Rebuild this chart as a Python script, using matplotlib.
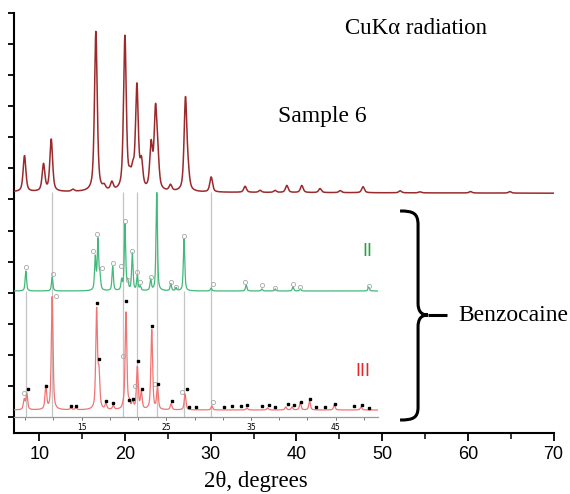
import numpy as np
import matplotlib
matplotlib.use("Agg")
import matplotlib.pyplot as plt
from matplotlib.path import Path
from matplotlib.patches import PathPatch
from matplotlib.ticker import FixedLocator, MultipleLocator, NullFormatter

# ---------------- data ----------------
# Sample 6 pattern: peak positions (2theta) and heights (arb. units)
s6_pos = [8.25, 10.47, 11.37, 13.9, 16.58, 17.55, 18.45, 19.97, 20.55, 20.9, 21.37, 21.9,
          23.03, 23.54, 23.8, 25.29, 27.04, 27.35, 30.04, 34.0, 35.75, 37.5, 38.87, 40.62,
          42.75, 45.1, 47.77, 52.1, 54.4, 60.3, 64.9]
s6_h = [36, 27, 52, 2, 160, 4, 8, 154, 10, 16, 103, 26,
        44, 75, 28, 6, 92, 14, 15, 6, 2, 2, 7, 7,
        4, 2, 6, 2, 1, 1.5, 1.5]
s6_base = 241.5

# Benzocaine form II (green)
f2_pos = [8.40, 11.51, 16.6, 16.92, 17.15, 18.66, 19.72, 20.11, 20.43, 20.98, 21.57, 21.92,
          23.15, 23.86, 25.52, 26.15, 27.09, 30.29, 34.43, 36.29, 37.86, 39.96, 40.82, 48.9]
f2_h = [20, 14, 33, 50, 14, 24, 10, 66, 8, 37, 15, 4,
        11, 98, 7, 3, 52, 3, 6, 2, 2, 4, 2, 4]
f2_base = 126.0
f2_circ_x = [8.40, 11.63, 16.36, 16.76, 17.36, 18.66, 19.6, 20.11, 20.43, 20.98, 21.57, 21.92,
             23.15, 25.52, 26.15, 27.09, 30.49, 34.31, 36.29, 37.86, 39.96, 40.82, 48.9]
f2_circ_y = [150.3, 143, 166, 183, 149, 154.3, 151.3, 196, 137, 166, 145.3, 135,
             140, 135.3, 129.7, 181.3, 132.7, 135.3, 132, 129.3, 132.7, 130.3, 131]

# Benzocaine form III (red)
f3_pos = [8.2, 8.51, 10.76, 11.51, 13.72, 14.31, 16.76, 17.04, 17.86, 18.73, 19.91, 20.23,
          20.62, 21.02, 21.57, 22.04, 23.27, 23.95, 25.56, 27.21, 30.37, 34.51, 36.96,
          39.1, 39.84, 40.82, 41.92, 44.85, 48.0]
f3_h = [10, 16, 23, 113, 2, 2, 99, 34, 6, 4, 3, 97,
        6, 8, 42, 17, 80, 22, 6, 16, 4, 2, 2,
        3, 3, 7, 9, 5, 3]
f3_base = 7.0
f3_sq_x = [8.67, 10.76, 13.72, 14.31, 16.83, 17.07, 17.86, 18.73, 20.23, 20.62, 21.02, 21.69,
           22.09, 23.27, 24.05, 25.64, 27.41, 27.68, 28.51, 31.86, 32.73, 33.8, 34.51, 36.29,
           37.07, 37.86, 39.32, 40.03, 40.94, 42.01, 42.72, 43.78, 44.88, 47.21, 48.12, 48.9]
f3_sq_y = [28, 31, 11.3, 10.7, 114.3, 58, 16.3, 13.7, 116.3, 17, 18, 56,
           28, 91.3, 33, 16.3, 27.7, 10.3, 9.7, 9.7, 11.3, 11.3, 12, 11.3,
           12, 9.7, 13, 12.3, 15.3, 17.7, 9.7, 9.7, 12.7, 11, 12, 8.7]
f3_circ_x = [8.16, 11.91, 19.84, 21.3, 23.66, 26.82, 30.56]
f3_circ_y = [24.3, 121, 61, 31, 32.7, 24.7, 14.7]

# reference lines (2theta) and their upper ends
ref_x = [8.40, 11.44, 19.84, 21.50, 23.84, 27.09, 30.33]
ref_top = [126, 225, 225, 225, 225, 126, 225]

inset_labels = [15, 25, 35, 45]


def profile(x, pos, h, w, eta=0.6):
    y = np.zeros_like(x)
    for c, a in zip(pos, h):
        d = (x - c) / w
        y += a * (eta / (1 + d ** 2) + (1 - eta) * np.exp(-np.log(2) * d ** 2))
    return y


W, H = 570, 494
fig = plt.figure(figsize=(W / 100, H / 100), dpi=100)

# main axes
ax = fig.add_axes([13.8 / W, 1 - 433.4 / H, (553.5 - 13.8) / W, (433.4 - 13) / H])
ax.set_xlim(7.0, 70)
ax.set_ylim(0, 420.4)
for s in ["top", "right"]:
    ax.spines[s].set_visible(False)
for s in ["left", "bottom"]:
    ax.spines[s].set_linewidth(1.5)
ax.xaxis.set_major_locator(MultipleLocator(10))
ax.xaxis.set_minor_locator(MultipleLocator(5))
ax.yaxis.set_major_locator(FixedLocator(np.linspace(16.4, 420.4, 14)))
ax.yaxis.set_major_formatter(NullFormatter())
ax.tick_params(axis="x", which="major", length=6, width=1.3, labelsize=13, pad=3)
ax.tick_params(axis="x", which="minor", length=4, width=1.1)
ax.tick_params(axis="y", which="major", length=4.5, width=1.3)
for lab in ax.get_xticklabels():
    lab.set_fontfamily("Liberation Sans")
ax.set_xlabel("2θ, degrees", fontfamily="Liberation Serif", fontsize=16.5, labelpad=3)
ax.xaxis.set_label_coords((256 - 13.8) / (553.5 - 13.8), -0.09)

xs = np.linspace(7.0, 70, 6000)
y6 = s6_base + profile(xs, s6_pos, s6_h, 0.19) - 1.3 * (xs - 7) / 63
ax.plot(xs, y6, color="#9a2a2c", lw=1.1, zorder=3)

ax.text(53.9, 405, "CuKα radiation", fontfamily="Liberation Serif", fontsize=16.5,
        ha="center", va="center")
ax.text(43.0, 317, "Sample 6", fontfamily="Liberation Serif", fontsize=17,
        ha="center", va="center")
ax.text(58.85, 118.4, "Benzocaine", fontfamily="Liberation Serif", fontsize=17,
        ha="left", va="center")
ax.text(48.24, 181.7, "II", color="#23a340", fontfamily="Liberation Sans", fontsize=13,
        ha="center", va="center")
ax.text(47.7, 61.7, "III", color="#e8262a", fontfamily="Liberation Sans", fontsize=13,
        ha="center", va="center")

# curly brace (drawn in data coords of main axes)
def px2d(px, py):
    return 10 + (px - 39.3) / 8.57, 433.4 - py

bx = [(400, 211), (413, 211), (418, 213), (418, 225), (418, 303), (418, 311), (421, 315),
      (428, 315), (421, 315), (418, 319), (418, 327), (418, 407), (418, 418), (413, 420),
      (400, 420)]
codes = [Path.MOVETO, Path.CURVE4, Path.CURVE4, Path.CURVE4, Path.LINETO, Path.CURVE4,
         Path.CURVE4, Path.CURVE4, Path.CURVE4, Path.CURVE4, Path.CURVE4, Path.LINETO,
         Path.CURVE4, Path.CURVE4, Path.CURVE4]
verts = [px2d(*p) for p in bx]
ax.add_patch(PathPatch(Path(verts, codes), fill=False, lw=2.2, color="black",
                       clip_on=False, capstyle="butt"))
t0, t1 = px2d(428, 315), px2d(447, 315)
ax.plot([t0[0], t1[0]], [t0[1], t1[1]], color="black", lw=2.2, solid_capstyle="butt")

# inset axes for the benzocaine patterns
ins = fig.add_axes([14 / W, 1 - 417 / H, (378 - 14) / W, 225 / H])
ins.set_xlim(7.0, 50.0)
ins.set_ylim(0, 225)
ins.patch.set_visible(False)
for s in ["top", "right", "left"]:
    ins.spines[s].set_visible(False)
ins.spines["bottom"].set_color("#9a9a9a")
ins.spines["bottom"].set_linewidth(0.9)
ins.set_yticks([])
ins.xaxis.set_major_locator(FixedLocator(inset_labels))
ins.xaxis.set_minor_locator(FixedLocator([8.33 + 10 / 3 * k for k in range(13)]))
ins.tick_params(axis="x", which="both", length=2.5, width=0.7, color="#777777",
                labelsize=5.5, pad=1.5)

xi = np.linspace(7.0, 50.0, 5000)
ins.vlines(ref_x, 0, ref_top, color="#c4c4c4", lw=0.9, zorder=1)
ins.plot(xi, f2_base + profile(xi, f2_pos, f2_h, 0.1), color="#41b97a", lw=0.9, zorder=2)
ins.plot(xi, f3_base + profile(xi, f3_pos, f3_h, 0.12), color="#f07474", lw=0.9, zorder=2)
ins.plot(f2_circ_x, f2_circ_y, ls="none", marker="o", ms=3, mfc="none", mec="#a8a8a8",
         mew=0.6, zorder=4)
ins.plot(f3_circ_x, f3_circ_y, ls="none", marker="o", ms=3, mfc="none", mec="#a8a8a8",
         mew=0.6, zorder=4)
ins.plot(f3_sq_x, f3_sq_y, ls="none", marker="s", ms=1.9, color="black", zorder=4)

fig.savefig("out.png", dpi=100)
